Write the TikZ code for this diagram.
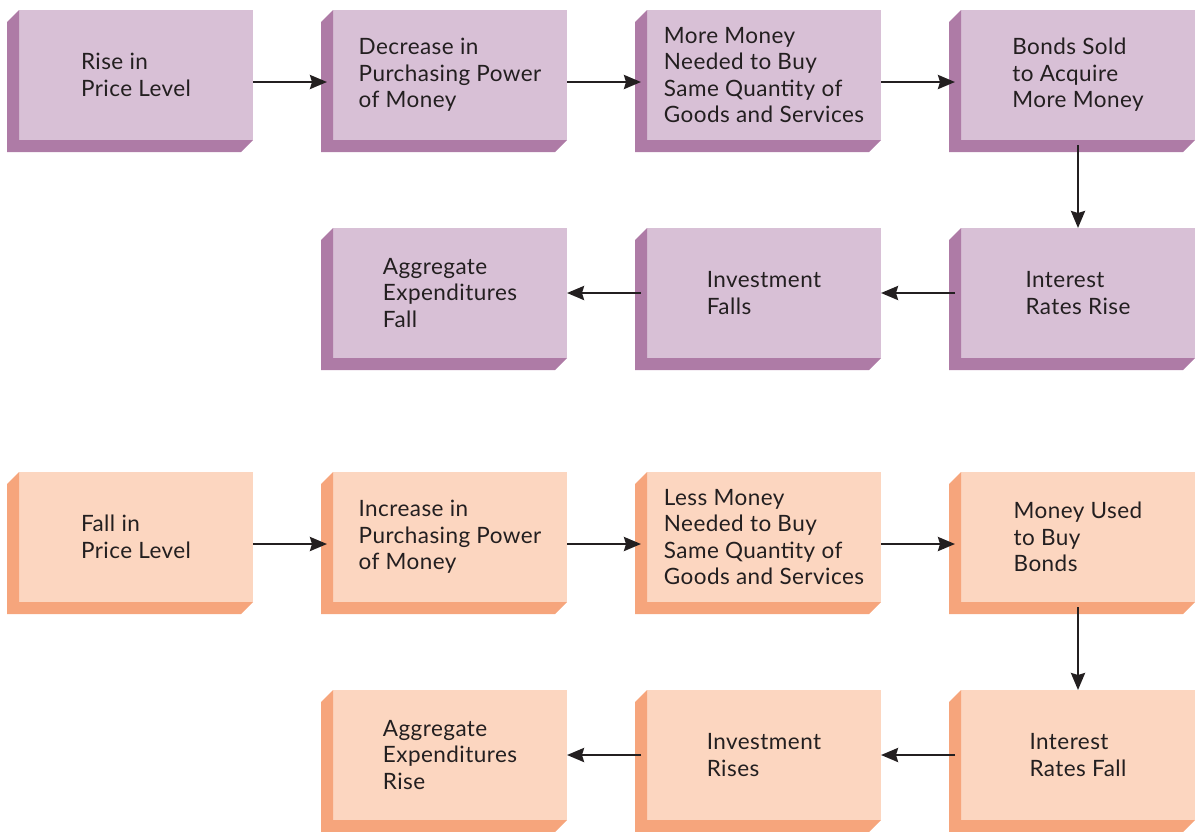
\documentclass[tikz,border=0pt]{standalone}
\usepackage{fontspec}
\setmainfont{Lato}[LetterSpace=2]
\usepackage{tikz}
\usetikzlibrary{matrix,arrows.meta}

\definecolor{lilac}{RGB}{216,192,214}
\definecolor{lilacdark}{RGB}{174,123,166}
\definecolor{peach}{RGB}{252,214,192}
\definecolor{peachdark}{RGB}{246,165,124}
\definecolor{ink}{RGB}{35,31,32}

\tikzset{
	card/.style={rectangle, minimum width=234pt, minimum height=130pt,
		inner sep=0pt, outer sep=0pt, align=left, text=ink,
		font=\fontsize{22.5}{26.5}\selectfont},
	up/.style={card, fill=lilac},
	down/.style={card, fill=peach},
	causes/.style={color=ink, line width=2.6pt, -{Stealth[length=17pt,width=14pt,inset=2pt]}}
}

\begin{document}
\begin{tikzpicture}[x=1pt,y=1pt]
			\useasboundingbox (0,0) rectangle (1196,-831);
			\matrix (f) [column sep=80pt, row sep=88pt, anchor=north west,
				inner sep=0pt, outer sep=0pt] at (19,-10)
			{
				\node[up] (riseP) {Rise in\\Price Level}; &
				\node[up] (lessPow) {Decrease in\\Purchasing Power\\of Money}; &
				\node[up] (moreM) {More Money\\Needed to Buy\\Same Quantity of\\Goods and Services}; &
				\node[up] (sold) {Bonds Sold\\to Acquire\\More Money}; \\
				&
				\node[up] (aeFall) {Aggregate\\Expenditures\\Fall}; &
				\node[up] (invFall) {Investment\\Falls}; &
				\node[up] (rRise) {Interest\\Rates Rise}; \\[26pt]
				\node[down] (fallP) {Fall in\\Price Level}; &
				\node[down] (morePow) {Increase in\\Purchasing Power\\of Money}; &
				\node[down] (lessM) {Less Money\\Needed to Buy\\Same Quantity of\\Goods and Services}; &
				\node[down] (bought) {Money Used\\to Buy\\Bonds}; \\
				&
				\node[down] (aeRise) {Aggregate\\Expenditures\\Rise}; &
				\node[down] (invRise) {Investment\\Rises}; &
				\node[down] (rFall) {Interest\\Rates Fall}; \\
			};
			% bevelled edges on the left and underneath each card
			\foreach \c/\tone in {riseP/lilacdark,lessPow/lilacdark,moreM/lilacdark,sold/lilacdark,
				aeFall/lilacdark,invFall/lilacdark,rRise/lilacdark,
				fallP/peachdark,morePow/peachdark,lessM/peachdark,bought/peachdark,
				aeRise/peachdark,invRise/peachdark,rFall/peachdark}
			\fill[\tone] (\c.north west) -- ++(-12,-12)
				-- ([shift={(-12,-12)}]\c.south west)
				-- ([shift={(-12,-12)}]\c.south east)
				-- (\c.south east) -- (\c.south west) -- cycle;
			\path[causes]
			([yshift=-7pt]riseP.east) edge[shorten >=6pt] ([yshift=-7pt]lessPow.west)
			([yshift=-7pt]lessPow.east) edge[shorten >=6pt] ([yshift=-7pt]moreM.west)
			([yshift=-7pt]moreM.east) edge[shorten >=6pt] ([yshift=-7pt]sold.west)
			(sold.south) edge[shorten <=5pt] (rRise.north)
			(rRise.west) edge[shorten <=6pt] (invFall.east)
			(invFall.west) edge[shorten <=6pt] (aeFall.east)
			([yshift=-7pt]fallP.east) edge[shorten >=6pt] ([yshift=-7pt]morePow.west)
			([yshift=-7pt]morePow.east) edge[shorten >=6pt] ([yshift=-7pt]lessM.west)
			([yshift=-7pt]lessM.east) edge[shorten >=6pt] ([yshift=-7pt]bought.west)
			(bought.south) edge[shorten <=5pt] (rFall.north)
			(rFall.west) edge[shorten <=6pt] (invRise.east)
			(invRise.west) edge[shorten <=6pt] (aeRise.east);
		\end{tikzpicture}
\end{document}
